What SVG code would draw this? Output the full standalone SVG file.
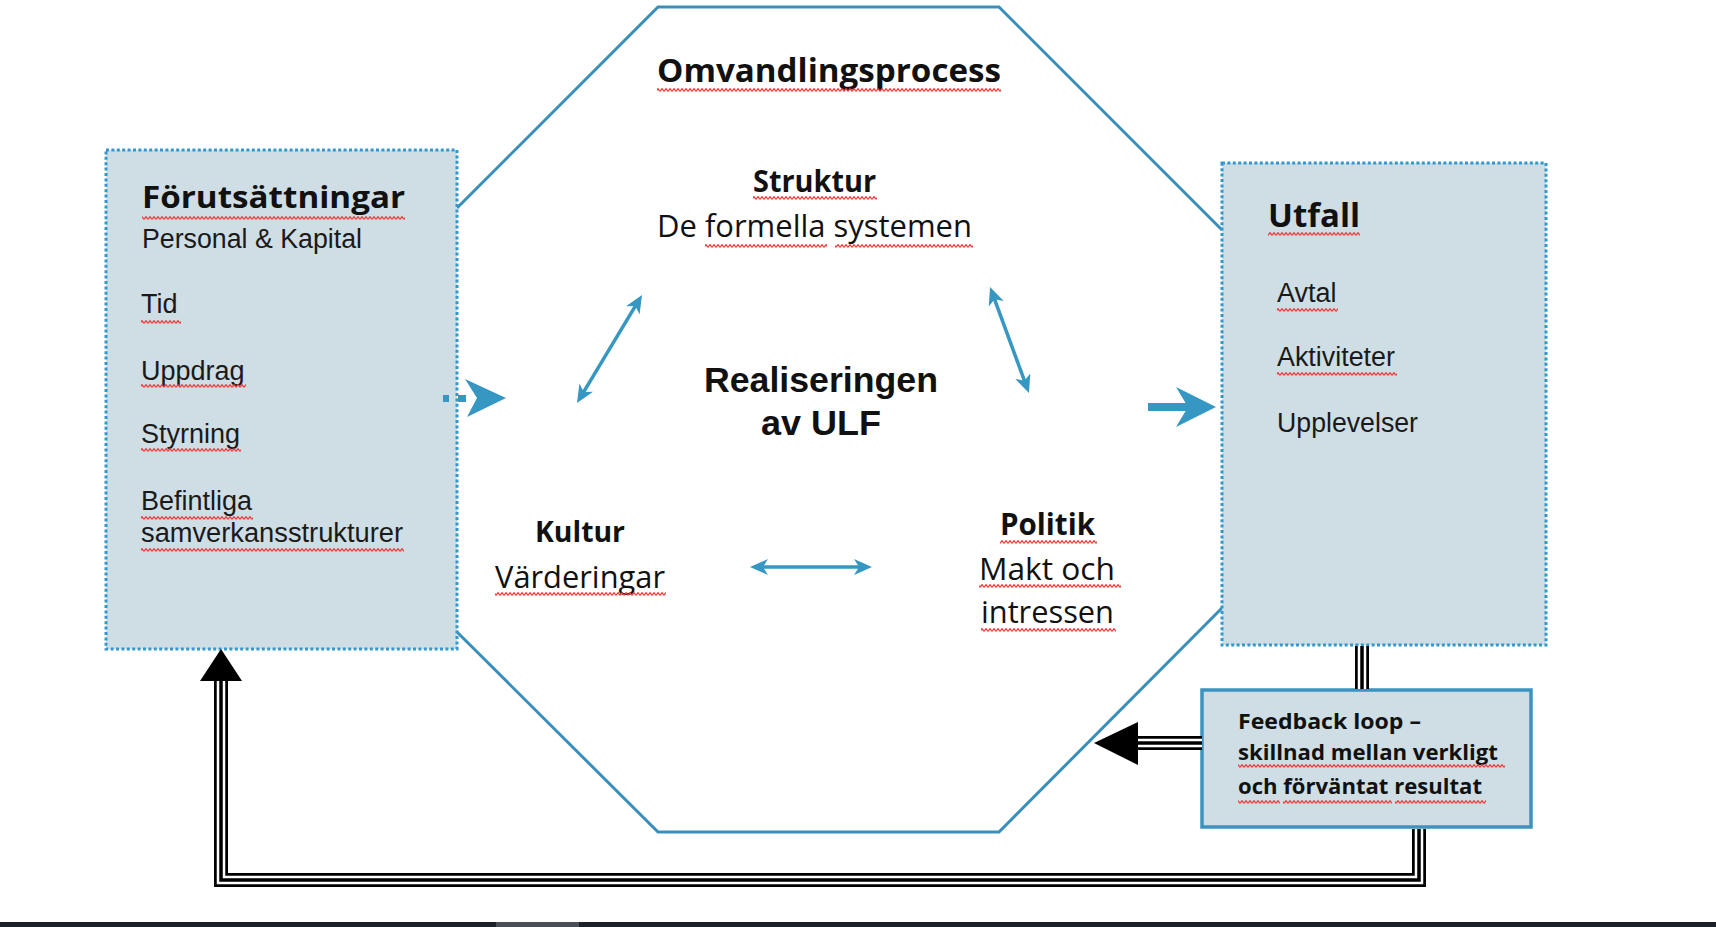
<svg xmlns="http://www.w3.org/2000/svg" width="1716" height="927" viewBox="0 0 1716 927">
<style>
.oct{fill:none;stroke:#3a8fba;stroke-width:3;stroke-linejoin:miter}
.dbox{fill:#cfdde4;stroke:#3399cc;stroke-width:3;stroke-dasharray:3 2.4}
.fbox{fill:#cfdde4;stroke:#3b93bf;stroke-width:3.5}
.ob{font-family:"Open Sans","Liberation Sans",sans-serif;font-weight:700;fill:#111}
.or{font-family:"Open Sans","Liberation Sans",sans-serif;font-weight:400;fill:#111}
.ar{font-family:"Liberation Sans",Arial,sans-serif;font-size:27px;fill:#1a1a1a}
.arb{font-family:"Liberation Sans",Arial,sans-serif;font-weight:700;font-size:35px;fill:#111}
.wv{fill:url(#wavy)}
.blue{stroke:#3597c2;stroke-width:3.5;fill:none;marker-start:url(#ah);marker-end:url(#ah)}
.bfill{fill:#3597c2}
.tlo{fill:none;stroke:#000;stroke-width:14}
.tlw{fill:none;stroke:#fff;stroke-width:8.5}
.tlc{fill:none;stroke:#000;stroke-width:3.5}
</style>
<defs>
<pattern id="wavy" width="4" height="4" patternUnits="userSpaceOnUse">
<path d="M0,3.3 L2,0.7 L4,3.3" fill="none" stroke="#f03c3c" stroke-width="1.3"/>
</pattern>
<marker id="ah" viewBox="0 0 18 16" refX="12" refY="8" markerWidth="18" markerHeight="16" markerUnits="userSpaceOnUse" orient="auto-start-reverse">
<path d="M0,0 L18,8 L0,16 L5,8 z" fill="#3597c2"/>
</marker>
<path id="c1" d="M1362,646 V689"/>
<path id="c2" d="M1202,743 H1130"/>
<path id="c3" d="M1419,829 V880 H221 V676"/>
</defs>
<rect x="0" y="0" width="1716" height="927" fill="#fff"/>

<g id="node-omvandlingsprocess">
<polyline class="oct" points="457,208 658,7 999,7 1222,230"/>
<polyline class="oct" points="1222,608 999,832 658,832 457,632"/>
<text class="ob" x="657" y="82" font-size="33" textLength="344" lengthAdjust="spacingAndGlyphs">Omvandlingsprocess</text>
<rect class="wv" x="657" y="88" width="344" height="4"/>
</g>

<g id="node-forutsattningar">
<rect class="dbox" x="106" y="150" width="351" height="499"/>
<text class="ob" x="142" y="208" font-size="30" textLength="263" lengthAdjust="spacingAndGlyphs">Förutsättningar</text>
<rect class="wv" x="142" y="216" width="263" height="4"/>
<text class="ar" x="142" y="248" textLength="220" lengthAdjust="spacingAndGlyphs">Personal &amp; Kapital</text>
<text class="ar" x="141" y="313">Tid</text>
<rect class="wv" x="141" y="320" width="40" height="4"/>
<text class="ar" x="141" y="380">Uppdrag</text>
<rect class="wv" x="141" y="384" width="105" height="4"/>
<text class="ar" x="141" y="443">Styrning</text>
<rect class="wv" x="141" y="448" width="100" height="4"/>
<text class="ar" x="141" y="510">Befintliga</text>
<rect class="wv" x="141" y="516" width="112" height="4"/>
<text class="ar" x="141" y="542" textLength="262" lengthAdjust="spacingAndGlyphs">samverkansstrukturer</text>
<rect class="wv" x="141" y="548" width="263" height="4"/>
</g>

<g id="node-utfall">
<rect class="dbox" x="1222" y="163" width="324" height="482"/>
<text class="ob" x="1268" y="227" font-size="33" textLength="92" lengthAdjust="spacingAndGlyphs">Utfall</text>
<rect class="wv" x="1268" y="232" width="92" height="4"/>
<text class="ar" x="1277" y="302">Avtal</text>
<rect class="wv" x="1277" y="308" width="61" height="4"/>
<text class="ar" x="1277" y="366" textLength="118" lengthAdjust="spacingAndGlyphs">Aktiviteter</text>
<rect class="wv" x="1277" y="372" width="120" height="4"/>
<text class="ar" x="1277" y="432" textLength="141" lengthAdjust="spacingAndGlyphs">Upplevelser</text>
</g>

<g id="node-struktur">
<text class="ob" x="753" y="192" font-size="30" textLength="123" lengthAdjust="spacingAndGlyphs">Struktur</text>
<rect class="wv" x="753" y="196" width="124" height="4"/>
<text class="or" x="657" y="237" font-size="31" textLength="315" lengthAdjust="spacingAndGlyphs">De formella systemen</text>
<rect class="wv" x="705" y="244" width="122" height="4"/>
<rect class="wv" x="835" y="244" width="138" height="4"/>
</g>

<g id="node-realiseringen">
<text class="arb" x="821" y="392" text-anchor="middle" textLength="234" lengthAdjust="spacingAndGlyphs">Realiseringen</text>
<text class="arb" x="821" y="435" text-anchor="middle" textLength="120" lengthAdjust="spacingAndGlyphs">av ULF</text>
</g>

<g id="node-kultur">
<text class="ob" x="535" y="542" font-size="29" textLength="90" lengthAdjust="spacingAndGlyphs">Kultur</text>
<text class="or" x="495" y="588" font-size="31" textLength="170" lengthAdjust="spacingAndGlyphs">Värderingar</text>
<rect class="wv" x="495" y="592" width="171" height="4"/>
</g>

<g id="node-politik">
<text class="ob" x="1000" y="535" font-size="30" textLength="95" lengthAdjust="spacingAndGlyphs">Politik</text>
<rect class="wv" x="1000" y="540" width="97" height="4"/>
<text class="or" x="979" y="580" font-size="31" textLength="136" lengthAdjust="spacingAndGlyphs">Makt och</text>
<rect class="wv" x="979" y="584" width="142" height="4"/>
<text class="or" x="981" y="623" font-size="31" textLength="133" lengthAdjust="spacingAndGlyphs">intressen</text>
<rect class="wv" x="981" y="628" width="135" height="4"/>
</g>

<g id="node-feedback">
<rect class="fbox" x="1202" y="690" width="329" height="137"/>
<text class="ob" x="1238" y="729" font-size="22" textLength="183" lengthAdjust="spacingAndGlyphs">Feedback loop –</text>
<text class="ob" x="1238" y="760" font-size="22" textLength="260" lengthAdjust="spacingAndGlyphs">skillnad mellan verkligt</text>
<rect class="wv" x="1238" y="764" width="267" height="4"/>
<text class="ob" x="1238" y="794" font-size="22" textLength="244" lengthAdjust="spacingAndGlyphs">och förväntat resultat</text>
<rect class="wv" x="1238" y="800" width="42" height="4"/>
<rect class="wv" x="1283" y="800" width="109" height="4"/>
<rect class="wv" x="1395" y="800" width="91" height="4"/>
</g>

<g id="connectors">
<line class="blue" x1="638.9" y1="300.1" x2="580.1" y2="397.9"/>
<line class="blue" x1="992.1" y1="292.6" x2="1026.9" y2="387.4"/>
<line class="blue" x1="756" y1="567" x2="866" y2="567"/>
<rect class="bfill" x="443" y="395" width="6" height="7"/>
<rect class="bfill" x="458" y="395" width="8" height="7"/>
<polygon class="bfill" points="465,379 506,398 467,417 477,398"/>
<rect class="bfill" x="1148" y="403" width="40" height="8"/>
<polygon class="bfill" points="1176,387 1216,407 1176,427 1188,407"/>
<g class="tlo"><use href="#c1"/><use href="#c2"/><use href="#c3"/></g>
<g class="tlw"><use href="#c1"/><use href="#c2"/><use href="#c3"/></g>
<g class="tlc"><use href="#c1"/><use href="#c2"/><use href="#c3"/></g>
<polygon points="1094,743 1138,722 1138,765" fill="#000"/>
<polygon points="221,649 200,681 242,681" fill="#000"/>
</g>

<rect x="0" y="922" width="1716" height="5" fill="#1c2128"/>
<rect x="496" y="922" width="83" height="5" fill="#4a4f55"/>
</svg>
